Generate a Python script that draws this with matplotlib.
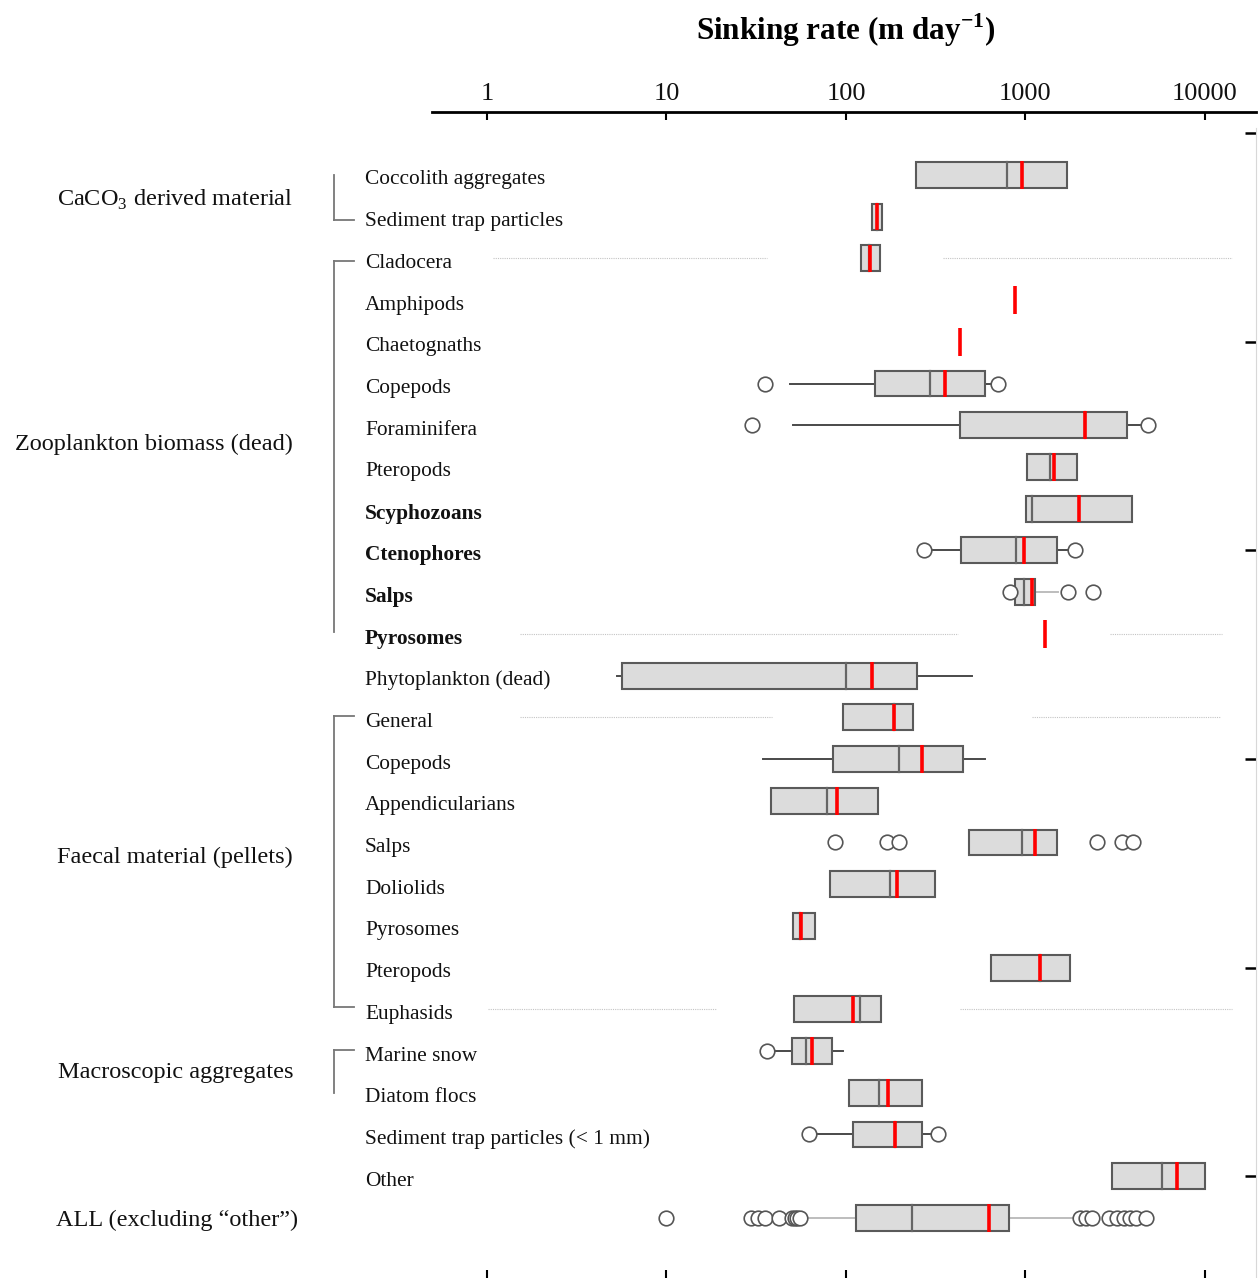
import numpy as np
import matplotlib.pyplot as plt
from matplotlib.transforms import blended_transform_factory

plt.rcParams['font.family'] = ['Liberation Serif', 'DejaVu Serif']
plt.rcParams['mathtext.fontset'] = 'custom'
plt.rcParams['mathtext.rm'] = 'Liberation Serif'
plt.rcParams['mathtext.bf'] = 'Liberation Serif:bold'

nan = np.nan

# one row per category, top to bottom
labels = ['Coccolith aggregates', 'Sediment trap particles', 'Cladocera', 'Amphipods',
          'Chaetognaths', 'Copepods', 'Foraminifera', 'Pteropods', 'Scyphozoans',
          'Ctenophores', 'Salps', 'Pyrosomes', 'Phytoplankton (dead)', 'General',
          'Copepods', 'Appendicularians', 'Salps', 'Doliolids', 'Pyrosomes', 'Pteropods',
          'Euphasids', 'Marine snow', 'Diatom flocs', 'Sediment trap particles (< 1 mm)',
          'Other', 'ALL (excluding \u201cother\u201d)']
bold_rows = [8, 9, 10, 11]

q1 = [245, 140, 121, nan, nan, 145, 432, 1020, 1007, 437, 874, nan, 5.65, 96,
      84.7, 38.2, 484, 81.4, 50.7, 642, 51.3, 49.8, 104.4, 110, 3027, 114]
q3 = [1703, 159, 155, nan, nan, 595, 3676, 1936, 3920, 1497, 1130, nan, 249, 236,
      449, 151, 1497, 313, 67.2, 1770, 156.7, 83.8, 265, 265, 9950, 807]
median = [789, 149, 134, nan, nan, 294, 2145, 1369, 1087, 885, 981, nan, 100, 185,
          197, 78.4, 957, 176, 55.5, 1205, 119.7, 60.1, 152, 188, 5755, 233]
mean = [957, 149, 136, 874, 432, 356, 2145, 1442, 1986, 981, 1087, 1285, 139.6, 185,
        265, 89.1, 1130, 192, 56.1, 1205, 109.4, 64.9, 171, 188, 6950, 623]
whisk_lo = [nan, nan, nan, nan, nan, 48.8, 50.7, nan, nan, 294, nan, nan, 5.3, nan,
            34.5, nan, nan, nan, nan, nan, nan, 36.1, nan, 62.4, nan, 60]
whisk_hi = [nan, nan, nan, nan, nan, 650, 4345, nan, nan, 1726, 1518, nan, 504, nan,
            595, nan, nan, nan, nan, nan, nan, 95.7, nan, 325, nan, 1851]
outliers = [[], [], [], [], [], [35.4, 703], [29.9, 4812], [], [], [272, 1887],
            [820, 1726, 2377], [], [], [], [], [], [86.9, 169, 197, 2502, 3449, 3972],
            [], [], [], [], [36.1], [], [62.4, 325], [],
            [10, 29.6, 32.5, 35.2, 42.5, 49.9, 51.8, 53.5, 55.5,
             2006, 2175, 2356, 2919, 3250, 3520, 3815, 4130, 4720]]
light_whisker_rows = [10, 25]

groups = ['CaCO$_3$ derived material', 'Zooplankton biomass (dead)',
          'Faecal material (pellets)', 'Macroscopic aggregates']
group_rows = [0.53, 6.38, 16.3, 21.45]
# bracket spans (first row, last row) and which ends get a short arm
bracket_spans = [(0.0, 1.08), (2.06, 10.95), (12.97, 19.94), (20.97, 22.0)]
bracket_arms = [['bottom'], ['top'], ['top', 'bottom'], ['top']]

# faint dotted guide lines across some rows
guide_rows = [2, 11, 13, 20]
guide_segments = [[(1.08, 36.3), (347, 14200)], [(1.53, 421), (2960, 12400)],
                  [(1.53, 38.7), (1087, 12100)], [(1.01, 18.9), (432, 14200)]]

xticks = [1, 10, 100, 1000, 10000]

fig = plt.figure(figsize=(12.58, 12.78), dpi=100)
ax = fig.add_axes([0.3434, 0.0, 0.655, 0.9124])
ax.set_xscale('log')
ax.set_xlim(0.494, 19240)
ax.set_ylim(26.44, -1.51)

rows = np.arange(len(labels))
h = 0.31
box_color = '#dcdcdc'
edge = '#5a5a5a'
txt = '#111111'

for r, segs in zip(guide_rows, guide_segments):
    for a, b in segs:
        ax.plot([a, b], [r, r], color='#c4c4c4', lw=0.8, ls=(0, (1, 1)), zorder=1)

for i in rows:
    wc = '#bdbdbd' if i in light_whisker_rows else '#4a4a4a'
    if not np.isnan(whisk_lo[i]):
        ax.plot([whisk_lo[i], q1[i]], [i, i], color=wc, lw=1.4, zorder=2)
    if not np.isnan(whisk_hi[i]):
        ax.plot([q3[i], whisk_hi[i]], [i, i], color=wc, lw=1.4, zorder=2)
    if not np.isnan(q1[i]):
        ax.barh(i, q3[i] - q1[i], left=q1[i], height=2 * h, color=box_color,
                edgecolor=edge, linewidth=1.5, zorder=3)
        ax.plot([median[i], median[i]], [i - h, i + h], color='#666666', lw=1.6, zorder=4)
    ax.plot([mean[i], mean[i]], [i - h - 0.02, i + h + 0.02], color='#ff0000', lw=2.6,
            zorder=5, solid_capstyle='butt')
    if outliers[i]:
        ax.plot(outliers[i], [i] * len(outliers[i]), ls='none', marker='o', ms=10.5,
                mfc='white', mec='#555555', mew=1.2, zorder=6)

# axes styling
for s in ['left', 'bottom']:
    ax.spines[s].set_visible(False)
ax.spines['top'].set_linewidth(2)
ax.spines['right'].set_color('#d8d8d8')
ax.spines['right'].set_bounds(26.44, -1.13)
ax.set_xticks(xticks)
ax.set_xticklabels([str(t) for t in xticks])
ax.xaxis.set_minor_locator(plt.NullLocator())
ax.tick_params(axis='x', top=True, bottom=True, labeltop=True, labelbottom=False,
               direction='in', length=6, width=1.5, pad=5, labelsize=19, labelcolor=txt)
ax.set_yticks([-1, 4, 9, 14, 19, 24])
ax.set_yticklabels([])
ax.tick_params(axis='y', left=False, right=True, direction='in', length=8, width=1.8)

# row labels, group labels and brackets (x in figure fraction)
trans = blended_transform_factory(fig.transFigure, ax.transData)
for i, lab in enumerate(labels[:-1]):
    ax.text(0.2901, i + 0.12, lab, transform=trans, ha='left', va='center', fontsize=15.4,
            fontweight='bold' if i in bold_rows else 'normal', color=txt)
ax.text(0.237, 25.05, labels[-1], transform=trans, ha='right', va='center',
        fontsize=17.5, color=txt)
for g, gy in zip(groups, group_rows):
    ax.text(0.233, gy + 0.07, g, transform=trans, ha='right', va='center', fontsize=17.5,
            color=txt)
for (a, b), arms in zip(bracket_spans, bracket_arms):
    ax.plot([0.2655, 0.2655], [a, b], transform=trans, color='#777777', lw=1.3,
            clip_on=False)
    for arm in arms:
        y = a if arm == 'top' else b
        ax.plot([0.2655, 0.2814], [y, y], transform=trans, color='#777777', lw=1.3,
                clip_on=False)

fig.text(846 / 1258, 1 - 30 / 1278, r'Sinking rate (m day$^{\mathbf{-1}}$)',
         ha='center', va='center', fontsize=22.4, fontweight='bold')

fig.savefig('out.png', dpi=100)
